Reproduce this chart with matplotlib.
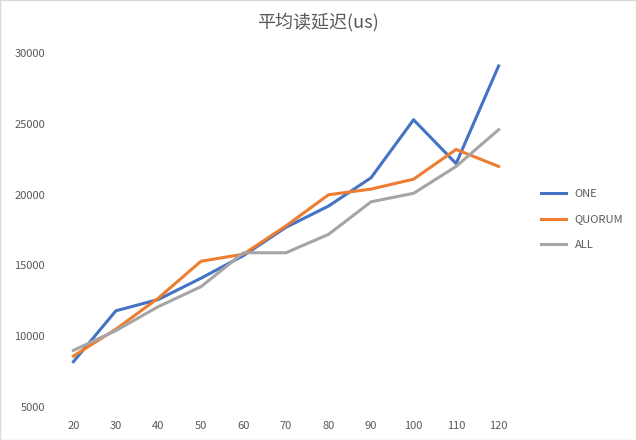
import matplotlib
matplotlib.use("Agg")
import matplotlib.pyplot as plt

plt.rcParams['font.family'] = ['Noto Sans CJK SC', 'DejaVu Sans']

x = [20, 30, 40, 50, 60, 70, 80, 90, 100, 110, 120]
one = [8200, 11800, 12600, 14100, 15700, 17700, 19200, 21200, 25300, 22200, 29100]
quorum = [8600, 10500, 12700, 15300, 15800, 17800, 20000, 20400, 21100, 23200, 22000]
all_ = [9000, 10400, 12100, 13500, 15900, 15900, 17200, 19500, 20100, 22000, 24600]
yticks = [5000, 10000, 15000, 20000, 25000, 30000]

fig = plt.figure(figsize=(6.36, 4.40), dpi=100)
ax = fig.add_axes([50/636, 33/440, 472/636, 375/440])
ax.plot(range(len(x)), one, color='#4472C4', lw=2.2, label='ONE')
ax.plot(range(len(x)), quorum, color='#ED7D31', lw=2.2, label='QUORUM')
ax.plot(range(len(x)), all_, color='#A5A5A5', lw=2.2, label='ALL')
ax.set_xlim(-0.55, len(x) - 0.45)
ax.set_ylim(5000, 31500)
ax.set_xticks(range(len(x)))
ax.set_xticklabels([str(v) for v in x])
ax.set_yticks(yticks)
for s in ax.spines.values():
    s.set_visible(False)
ax.tick_params(length=0, labelsize=8, colors='#595959')
ax.tick_params(axis='x', pad=10)
fig.text(0.5, 0.95, '平均读延迟(us)', ha='center', va='center', fontsize=13, color='#595959')
ax.legend(loc='center left', bbox_to_anchor=(1.02, 0.5), frameon=False, fontsize=8,
          labelcolor='#595959', handlelength=2.2, labelspacing=1.4)
fig.patches.append(plt.Rectangle((0, 0), 1, 1, transform=fig.transFigure, fill=False, edgecolor='#D9D9D9', lw=1))
fig.savefig('out.png', dpi=100)
